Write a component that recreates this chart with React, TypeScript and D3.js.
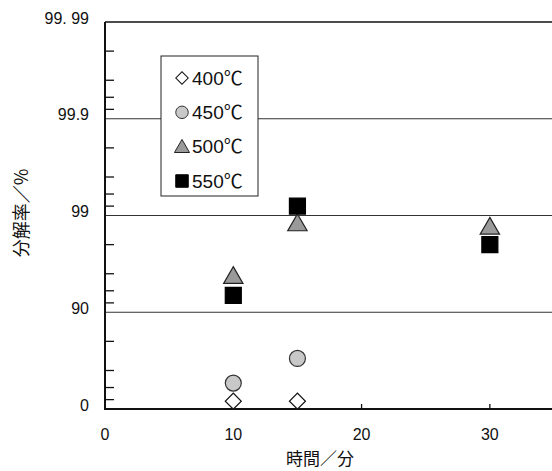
import React, { useEffect, useRef } from 'react';
import * as d3 from 'd3';

// 分解率 vs 時間 at four temperatures
const seriesNames = ['400℃', '450℃', '500℃', '550℃'];
const times400 = [10, 15];
const rate400 = [17, 17];
const times450 = [10, 15];
const rate450 = [46, 70];
const times500 = [10, 15, 30];
const rate500 = [95.8, 98.8, 98.7];
const times550 = [10, 15, 30];
const rate550 = [93.3, 99.2, 98.0];

const yMajor = [0, 90, 99, 99.9, 99.99];
const yMajorLabels = ['0', '90', '99', '99.9', '99. 99'];
const yGrid = [90, 99, 99.9];
const yMinor = [20, 40, 60, 80, 92, 94, 96, 98, 99.2, 99.4, 99.6, 99.8, 99.92, 99.94, 99.96, 99.98];
const xTicks = [0, 10, 20, 30];

const App = () => {
    const svgRef = useRef<SVGSVGElement>(null);

    useEffect(() => {
        const svg = d3.select(svgRef.current);
        svg.selectAll('*').remove();

        const width = 552;
        const left = 105, top = 22, bottom = 409;

        const x = d3.scaleLinear().domain([0, 35]).range([left, 554]);
        // axis is linear in -log10(1 - p)
        const lin = d3.scaleLinear().domain([0, 4]).range([bottom, top]);
        const y = (p: number) => lin(-Math.log10(1 - p / 100));

        const tickFont = 'Liberation Sans, Arial, sans-serif';
        const cjkFont = '"Noto Sans CJK JP", sans-serif';

        // grid lines
        svg.append('g')
            .selectAll('line')
            .data(yGrid)
            .join('line')
            .attr('x1', left).attr('x2', width)
            .attr('y1', d => y(d)).attr('y2', d => y(d))
            .attr('stroke', '#333').attr('stroke-width', 1);

        // frame
        svg.append('line').attr('x1', left).attr('x2', width).attr('y1', top).attr('y2', top)
            .attr('stroke', '#111').attr('stroke-width', 1.5);
        svg.append('line').attr('x1', left).attr('x2', width).attr('y1', bottom).attr('y2', bottom)
            .attr('stroke', '#111').attr('stroke-width', 2);
        svg.append('line').attr('x1', left).attr('x2', left).attr('y1', top).attr('y2', bottom + 1)
            .attr('stroke', '#111').attr('stroke-width', 2);

        // y minor ticks (inward)
        svg.append('g')
            .selectAll('line')
            .data(yMinor)
            .join('line')
            .attr('x1', left).attr('x2', left + 9)
            .attr('y1', d => y(d)).attr('y2', d => y(d))
            .attr('stroke', '#111').attr('stroke-width', 1.3);

        // y labels
        svg.append('g')
            .selectAll('text')
            .data(yMajor)
            .join('text')
            .attr('x', 89)
            .attr('y', d => y(d) - 4)
            .attr('dy', '0.35em')
            .attr('text-anchor', 'end')
            .attr('font-family', tickFont)
            .attr('font-size', 16)
            .attr('fill', '#111')
            .text((d, i) => yMajorLabels[i]);

        // x ticks and labels
        svg.append('g')
            .selectAll('line')
            .data(xTicks.filter(d => d > 0))
            .join('line')
            .attr('x1', d => x(d)).attr('x2', d => x(d))
            .attr('y1', bottom).attr('y2', bottom - 5)
            .attr('stroke', '#111').attr('stroke-width', 1.3);
        svg.append('g')
            .selectAll('text')
            .data(xTicks)
            .join('text')
            .attr('x', d => x(d))
            .attr('y', 434)
            .attr('dy', '0.35em')
            .attr('text-anchor', 'middle')
            .attr('font-family', tickFont)
            .attr('font-size', 16)
            .attr('fill', '#111')
            .text(d => d);

        // axis titles
        svg.append('text')
            .attr('transform', 'translate(22,213) rotate(-90)')
            .attr('text-anchor', 'middle')
            .attr('dy', '0.35em')
            .attr('font-family', cjkFont)
            .attr('font-size', 18)
            .attr('fill', '#111')
            .text('分解率／%');
        svg.append('text')
            .attr('x', 320).attr('y', 459)
            .attr('text-anchor', 'middle')
            .attr('dy', '0.35em')
            .attr('font-family', cjkFont)
            .attr('font-size', 17)
            .attr('fill', '#111')
            .text('時間／分');

        // marker styles per series
        const styles = [
            { type: d3.symbolSquare, fill: '#fff', stroke: '#111', rotate: 45, scale: 0.5 },
            { type: d3.symbolCircle, fill: '#c8c8c8', stroke: '#333', rotate: 0, scale: 0.785 },
            { type: d3.symbolTriangle, fill: '#9a9a9a', stroke: '#222', rotate: 0, scale: 0.5 },
            { type: d3.symbolSquare, fill: '#000', stroke: '#000', rotate: 0, scale: 1 },
        ];
        const symbolPath = (i: number, side: number) =>
            d3.symbol().type(styles[i].type).size(side * side * styles[i].scale)();

        const series = [
            { t: times400, r: rate400 },
            { t: times450, r: rate450 },
            { t: times500, r: rate500 },
            { t: times550, r: rate550 },
        ];

        // legend box
        const lg = svg.append('g');
        lg.append('rect')
            .attr('x', 161).attr('y', 56).attr('width', 97).attr('height', 140)
            .attr('fill', '#fff').attr('stroke', '#222').attr('stroke-width', 1);
        const rowY = d3.scaleLinear().domain([0, 3]).range([78, 181]);
        seriesNames.forEach((name, i) => {
            const s = styles[i];
            lg.append('path')
                .attr('d', symbolPath(i, i === 2 ? 14 : 12.5))
                .attr('transform', `translate(182,${rowY(i) + (i === 2 ? 1.5 : 0)}) rotate(${s.rotate})`)
                .attr('fill', s.fill).attr('stroke', s.stroke).attr('stroke-width', 1);
            lg.append('text')
                .attr('x', 192).attr('y', rowY(i))
                .attr('dy', '0.35em')
                .attr('font-family', `Liberation Sans, Arial, "Noto Sans CJK JP", sans-serif`)
                .attr('font-size', 19)
                .attr('fill', '#111')
                .text(name);
        });

        // data markers
        series.forEach((ser, i) => {
            const s = styles[i];
            svg.append('g')
                .selectAll('path')
                .data(ser.t.map((t, j) => ({ t, r: ser.r[j] })))
                .join('path')
                .attr('d', symbolPath(i, i === 2 ? 18 : 16))
                .attr('transform', d => `translate(${x(d.t)},${y(d.r) + (i === 2 ? 2 : 0)}) rotate(${s.rotate})`)
                .attr('fill', s.fill)
                .attr('stroke', s.stroke)
                .attr('stroke-width', 1.2);
        });
    }, []);

    return (
        <svg ref={svgRef} width={552} height={471}
            style={{ position: 'absolute', left: 0, top: 0, background: '#fff' }}></svg>
    );
};

export default App;
